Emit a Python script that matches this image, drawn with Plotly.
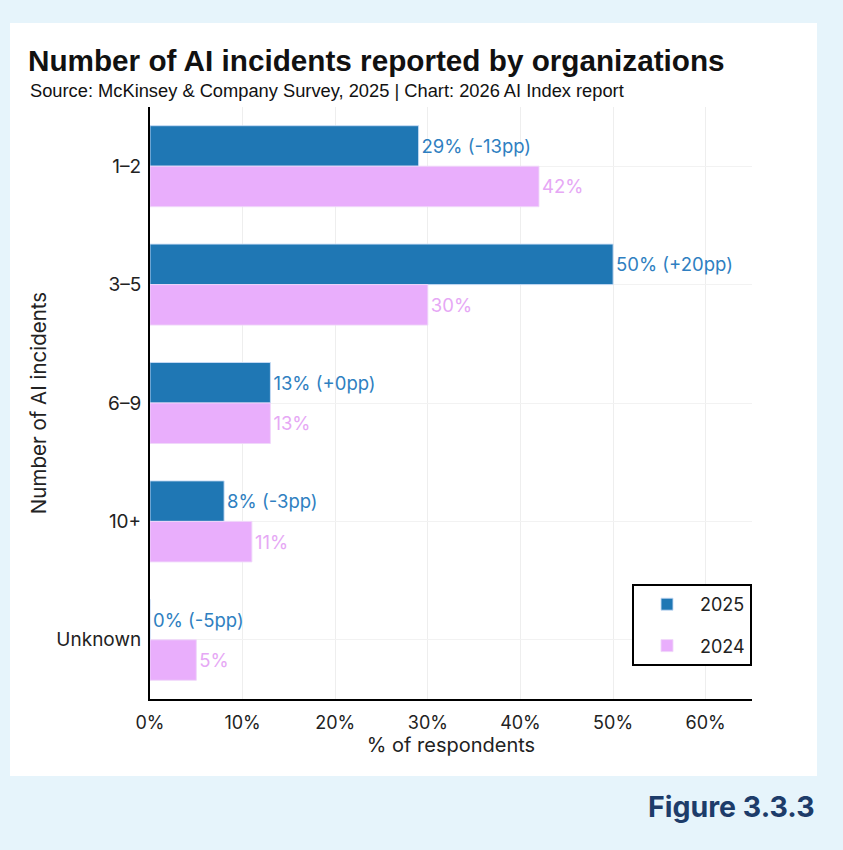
import plotly.graph_objects as go

categories = ["1–2", "3–5", "6–9", "10+", "Unknown"]
values_2025 = [29, 50, 13, 8, 0]
values_2024 = [42, 30, 13, 11, 5]
x_ticks = [0, 10, 20, 30, 40, 50, 60]
x_tick_labels = ["0%", "10%", "20%", "30%", "40%", "50%", "60%"]

W, H = 843, 850
L, R, T, B = 150, 752, 107, 699  # plot area in pixels
pw, ph = R - L, B - T

def px(x):
    return (x - L) / pw

def py(y):
    return (B - y) / ph

labels_2025 = [f"{v}% ({'+' if v - p >= 0 else '-'}{abs(v - p)}pp)" for v, p in zip(values_2025, values_2024)]
labels_2024 = [f"{p}%" for p in values_2024]

BLUE = "#1f77b4"
PINK = "#e9aefc"
FONT = "Inter, Liberation Sans, Arial, sans-serif"
HELV = "Liberation Sans, Arial, sans-serif"

fig = go.Figure()
fig.add_trace(go.Bar(
    y=categories, x=values_2025, orientation="h", name="2025", legendgroup="a",
    marker=dict(color=BLUE, line=dict(color="rgba(200,220,245,0.9)", width=1)),
    text=labels_2025, textposition="outside", cliponaxis=False,
    textfont=dict(color="#2f7fc1", size=18.5, family=FONT),
))
fig.add_trace(go.Bar(
    y=categories, x=values_2024, orientation="h", name="2024", legendgroup="b",
    marker=dict(color=PINK, line=dict(color="rgba(240,215,250,0.9)", width=1)),
    text=labels_2024, textposition="outside", cliponaxis=False,
    textfont=dict(color="#e6a8f5", size=18.5, family=FONT),
))

fig.update_layout(
    width=W, height=H,
    margin=dict(l=L, r=W - R, t=T, b=H - B, pad=0),
    paper_bgcolor="#e6f4fb",
    plot_bgcolor="white",
    barmode="group", bargap=0.316, bargroupgap=0.0,
    font=dict(family=FONT, color="#222222", size=15),
    title=dict(
        text="<b>Number of AI incidents reported by organizations</b>",
        x=28 / W, xanchor="left", xref="container",
        y=1 - 61 / H, yanchor="middle", yref="container",
        font=dict(size=29.7, family=HELV, color="#111111"),
    ),
    xaxis=dict(
        range=[0, 65], tickvals=x_ticks, ticktext=x_tick_labels,
        showgrid=True, gridcolor="#eeeeee", gridwidth=1,
        showline=True, linecolor="black", linewidth=2,
        zeroline=False, ticks="", ticklabelstandoff=6,
        tickfont=dict(size=18, color="#222222"),
        title=dict(text="% of respondents", font=dict(size=20, color="#222222"), standoff=6),
    ),
    yaxis=dict(
        autorange="reversed",
        showgrid=True, gridcolor="#f2f2f2", gridwidth=1,
        showline=True, linecolor="black", linewidth=2,
        ticks="", ticklabelstandoff=3,
        tickfont=dict(size=19, color="#222222"),
        title=dict(text="Number of AI incidents", font=dict(size=20.5, color="#222222"), standoff=4),
    ),
    legend=dict(
        x=1, xanchor="right", y=py(666), yanchor="bottom",
        bordercolor="black", borderwidth=2, bgcolor="white",
        font=dict(size=18, color="#222222"),
        itemwidth=56, tracegroupgap=15,
    ),
    showlegend=True,
)

# white card
fig.add_shape(type="rect", xref="paper", yref="paper",
              x0=px(10), x1=px(817), y0=py(776), y1=py(23),
              fillcolor="white", line=dict(width=0), layer="below")

fig.add_annotation(
    text="Source: McKinsey & Company Survey, 2025 | Chart: 2026 AI Index report",
    xref="paper", yref="paper", x=px(28), y=py(90), xanchor="left", yanchor="middle",
    showarrow=False, font=dict(size=18.3, family=HELV, color="#111111"),
)
fig.add_annotation(
    text="<b>Figure 3.3.3</b>",
    xref="paper", yref="paper", x=px(817), y=py(806), xanchor="right", yanchor="middle",
    showarrow=False, font=dict(size=28.5, family=FONT, color="#1d3c6a"),
)

fig.write_html("out.html")
